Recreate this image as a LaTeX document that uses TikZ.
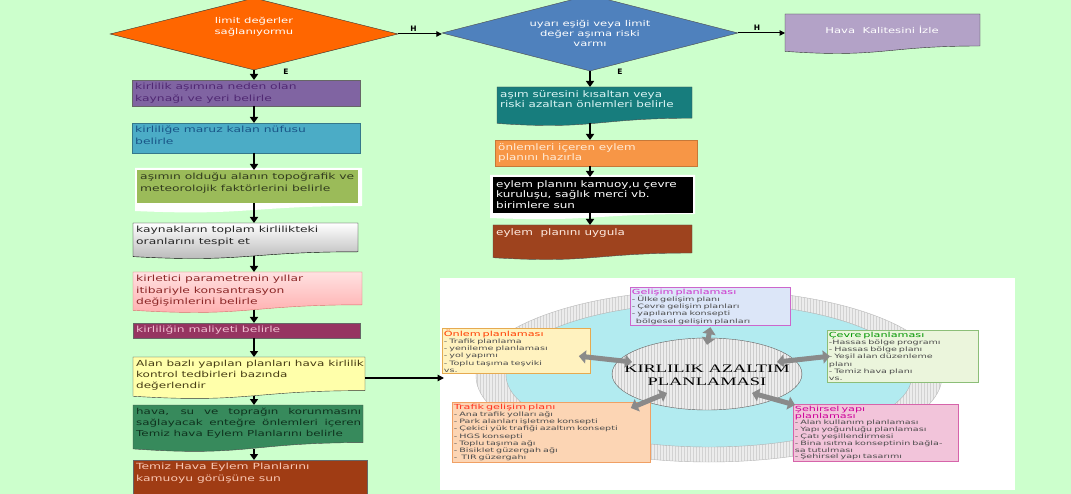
\documentclass[tikz,border=0pt]{standalone}
\usepackage{fontspec}
\setmainfont{DejaVu Sans}
\newfontfamily\fntL[FakeStretch=1.45]{DejaVu Sans}
\newfontfamily\fntR[FakeStretch=1.33]{DejaVu Sans}
\newfontfamily\fntS[FakeStretch=1.6]{DejaVu Sans}
\newfontfamily\fntC[FakeStretch=1.6]{Liberation Serif}
\newcommand\ttlfont{\fntS\fontsize{7}{7.2}\selectfont}
\usetikzlibrary{shapes.geometric,arrows.meta,calc,patterns,backgrounds}
\definecolor{bgc}{RGB}{204,255,204}
\definecolor{d1c}{RGB}{255,102,0}
\definecolor{d2c}{RGB}{79,129,189}
\definecolor{hkc}{RGB}{179,162,199}
\definecolor{b1c}{RGB}{128,100,162}
\definecolor{b2c}{RGB}{75,172,198}
\definecolor{b3c}{RGB}{155,187,89}
\definecolor{b6c}{RGB}{150,52,97}
\definecolor{b7c}{RGB}{255,255,170}
\definecolor{b8c}{RGB}{55,138,92}
\definecolor{b9c}{RGB}{160,60,20}
\definecolor{r1c}{RGB}{23,125,125}
\definecolor{r2c}{RGB}{247,150,70}
\definecolor{r4c}{RGB}{158,67,30}
\definecolor{cyc}{RGB}{178,235,240}
\definecolor{barc}{RGB}{138,138,138}
\definecolor{t1c}{RGB}{80,40,115}
\definecolor{t2c}{RGB}{25,85,135}
\definecolor{t3c}{RGB}{50,60,30}
\definecolor{t5c}{RGB}{140,40,40}
\definecolor{t6c}{RGB}{240,190,210}
\definecolor{t7c}{RGB}{70,60,20}
\definecolor{t8c}{RGB}{15,50,30}
\definecolor{t9c}{RGB}{250,200,180}
\definecolor{gelf}{RGB}{220,230,248}
\definecolor{geld}{RGB}{204,102,204}
\definecolor{gelt}{RGB}{204,51,204}
\definecolor{onlf}{RGB}{255,242,191}
\definecolor{onld}{RGB}{230,170,80}
\definecolor{onlt}{RGB}{255,60,0}
\definecolor{cevf}{RGB}{235,245,220}
\definecolor{cevd}{RGB}{140,190,120}
\definecolor{cevt}{RGB}{0,150,0}
\definecolor{trff}{RGB}{252,213,180}
\definecolor{trfd}{RGB}{240,160,100}
\definecolor{trft}{RGB}{255,50,30}
\definecolor{sehf}{RGB}{242,196,218}
\definecolor{sehd}{RGB}{214,100,170}
\definecolor{seht}{RGB}{204,0,153}
\tikzset{
  area/.style={shape=rectangle, inner sep=0pt, outer sep=0pt, draw=none},
  docpath/.style={insert path={(#1.north west) -- (#1.north east) -- ($(#1.north east)!0.8!(#1.south east)$) .. controls ($(#1.north)!0.8!(#1.south)$) and ($(#1.north)!1.107!(#1.south)$) .. ($(#1.north west)!0.934!(#1.south west)$) -- cycle}},
  rectpath/.style={insert path={(#1.north west) rectangle (#1.south east)}},
  ltxt/.style={font=\fntL\fontsize{8.5}{11.5}\selectfont, align=left, inner sep=1.5pt},
  rtxt/.style={font=\fntR\fontsize{9}{10.5}\selectfont, align=left, inner sep=1.5pt},
  dtxt/.style={font=\fntL\fontsize{8}{11}\selectfont, align=center, text=white, inner sep=0pt},
  varr/.style={line width=2.2pt, -{Triangle[width=8pt,length=6pt]}},
  harr/.style={line width=1pt, -{Triangle[width=5.5pt,length=5.5pt]}},
  lab/.style={font=\bfseries\fontsize{7.5}{8}\selectfont, inner sep=1pt},
  sbox/.style={draw, shape=rectangle, anchor=north west, align=left, inner sep=1.5pt, font=\fntS\fontsize{6}{7.2}\selectfont, text=black!70, line width=0.8pt},
  barr/.style={draw=barc, line width=5pt, {Triangle[width=13pt,length=7pt]}-{Triangle[width=13pt,length=7pt]}}
}
\newcommand\flowbox[9]{%
  \node[area, minimum width={(#4-#2)*1pt}, minimum height={(#5-#3)*1pt}, anchor=north west] (#1) at (#2,#3) {};
  \begin{scope}[on background layer]\draw[#7, #6=#1];\end{scope}
  \node[#8, anchor=north west] (#1t) at ([shift={(1.5pt,-1.5pt)}]#1.north west) {#9};}
\begin{document}
\begin{tikzpicture}[x=1pt,y=-1pt]
\useasboundingbox (0,0) rectangle (1071,494);
\begin{scope}[on background layer]
  \fill[bgc] (0,0) rectangle (1071,494);
  \node[area, fill=white, minimum width=575pt, minimum height=212pt, anchor=north west] (panel) at (440,278) {};
  \draw[gray!55, preaction={fill=gray!15}, pattern=vertical lines, pattern color=gray!35] (709,376) ellipse [x radius=233pt, y radius=86pt];
  \draw[gray!60, fill=cyc] (709,375) ellipse [x radius=203pt, y radius=72pt];
  \fill[white] (135,168) -- (362,168) -- (362,206) .. controls (248,206) and (248,216) .. (135,211) -- cycle;
  \fill[white] (490,175) -- (695,175) -- (695,214) .. controls (592,214) and (592,222) .. (490,218) -- cycle;
\end{scope}

% diamonds
\node[diamond, draw=black!80, fill=d1c, minimum width=288pt, minimum height=72pt, inner sep=0pt] (d1) at (254,34) {};
\node[dtxt] (d1t) at (254,27) {limit değerler\\sağlanıyormu};
\node[diamond, draw=black!70, fill=d2c, minimum width=296pt, minimum height=76pt, inner sep=0pt] (d2) at (590,33) {};
\node[dtxt, font=\fntL\fontsize{8}{10}\selectfont] (d2t) at (590,33) {uyarı eşiği veya limit\\değer aşıma riski\\varmı};

% Hava kalitesi
\node[area, minimum width=195pt, minimum height=40pt, anchor=north west] (hk) at (785,14) {};
\begin{scope}[on background layer]\draw[fill=hkc, draw=black!80, docpath=hk];\end{scope}
\node[dtxt] (hkt) at (882,30) {Hava\ \ Kalitesini İzle};

% left column
\flowbox{b1}{132}{80}{360}{106}{rectpath}{fill=b1c, draw=black!60}{ltxt, text=t1c}{kirlilik aşımına neden olan\\kaynağı ve yeri belirle}
\flowbox{b2}{132}{123}{360}{153}{rectpath}{fill=b2c, draw=b2c!70!black}{ltxt, text=t2c}{kirliliğe maruz kalan nüfusu\\belirle}
\flowbox{b3}{137}{170}{358}{203}{rectpath}{fill=b3c, draw=none}{ltxt, text=t3c}{aşımın olduğu alanın topoğrafik ve\\meteorolojik faktörlerini belirle}
\flowbox{b4}{133}{223}{358}{259}{docpath}{top color=white, bottom color=gray!60, draw=black}{ltxt, text=black!85}{kaynakların toplam kirlilikteki\\oranlarını tespit et}
\flowbox{b5}{133}{272}{362}{313}{docpath}{top color={rgb,255:red,255;green,225;blue,225}, bottom color={rgb,255:red,255;green,170;blue,170}, draw={rgb,255:red,220;green,110;blue,110}}{ltxt, text=t5c}{kirletici parametrenin yıllar\\itibariyle konsantrasyon\\değişimlerini belirle}
\flowbox{b6}{133}{323}{360}{338}{rectpath}{fill=b6c, draw=black!60}{ltxt, text=t6c}{kirliliğin maliyeti belirle}
\flowbox{b7}{133}{357}{365}{399}{docpath}{fill=b7c, draw=black!80}{ltxt, text=t7c, font=\fntL\fontsize{8.3}{11}\selectfont}{Alan bazlı yapılan planları hava kirlilik\\kontrol tedbirleri bazında\\değerlendir}
\flowbox{b8}{133}{405}{363}{452}{docpath}{fill=b8c, draw=black!70}{ltxt, text=t8c, font=\fntL\fontsize{8.2}{11}\selectfont}{\makebox[225pt][s]{hava, su ve toprağın korunmasını}\\\makebox[225pt][s]{sağlayacak enteğre önlemleri içeren}\\Temiz hava Eylem Planlarını belirle}
\flowbox{b9}{133}{460}{367}{500}{rectpath}{fill=b9c, draw=black!60}{ltxt, text=t9c}{Temiz Hava Eylem Planlarını\\kamuoyu görüşüne sun}

% right column
\flowbox{r1}{497}{87}{692}{126}{docpath}{fill=r1c, draw=black!70}{rtxt, text={rgb,255:red,220;green,245;blue,245}}{aşım süresini kısaltan veya\\riski azaltan önlemleri belirle}
\flowbox{r2}{495}{140}{697}{166}{rectpath}{fill=r2c, draw=r2c!80!black}{rtxt, text={rgb,255:red,255;green,235;blue,215}}{önlemleri içeren eylem\\planını hazırla}
\flowbox{r3}{493}{177}{692}{212}{rectpath}{fill=black, draw=black}{rtxt, text=white}{eylem planını kamuoy,u çevre\\kuruluşu, sağlık merci vb.\\birimlere sun}
\flowbox{r4}{493}{225}{692}{260}{docpath}{fill=r4c, draw=black!70}{rtxt, text={rgb,255:red,255;green,235;blue,225}}{eylem\ \ planını uygula}

% connectors, decisions
\draw[harr] (d1.east) -- (d1.east -| d2.west) node[pos=0.35, above=1pt, lab] (h1) {H};
\draw[harr] (d2.east) -- (d2.east -| hk.west) node[pos=0.4, above=1pt, lab] (h2) {H};
\node[lab] (e1) at (286,72) {E};
\node[lab] (e2) at (620,72) {E};

% left column arrows
\draw[varr] (d1.south) -- (b1.north -| d1.south);
\draw[varr] (b1.south -| d1.south) -- (b2.north -| d1.south);
\draw[varr] (b2.south -| d1.south) -- (b3.north -| d1.south);
\draw[varr] (b3.south -| d1.south) -- (b4.north -| d1.south);
\draw[varr] ([yshift=3pt]b4.south -| d1.south) -- (b5.north -| d1.south);
\draw[varr] ([yshift=3pt]b5.south -| d1.south) -- (b6.north -| d1.south);
\draw[varr] (b6.south -| d1.south) -- (b7.north -| d1.south);
\draw[varr] ([yshift=3pt]b7.south -| d1.south) -- (b8.north -| d1.south);
\draw[varr] ([yshift=3pt]b8.south -| d1.south) -- (b9.north -| d1.south);

% right column arrows
\draw[varr] (d2.south) -- (r1.north -| d2.south);
\draw[varr] ([yshift=3pt]r1.south -| d2.south) -- (r2.north -| d2.south);
\draw[varr] (r2.south -| d2.south) -- (r3.north -| d2.south);
\draw[varr] (r3.south -| d2.south) -- (r4.north -| d2.south);

% to panel
\draw[line width=1.4pt, -{Triangle[width=6.5pt,length=6.5pt]}] (b7.east) -- ([xshift=4pt]b7.east -| panel.west);

% panel contents
\node[ellipse, minimum width=190pt, minimum height=72pt, inner sep=0pt, draw=gray!75!black, preaction={fill=gray!15}, pattern=vertical lines, pattern color=gray!40] (ctr) at (707,374) {};
\node[font=\fntC\fontsize{11.5}{13}\selectfont, align=center, inner sep=0pt] (ctrt) at (707,375) {KIRLILIK AZALTIM\\PLANLAMASI};

\node[sbox, fill=gelf, draw=geld, text width=157pt, minimum height=36pt] (gel) at (630,287)
 {{\ttlfont\color{gelt}Gelişim planlaması}\\- Ülke gelişim planı\\- Çevre gelişim planları\\- yapılanma konsepti\\\hspace*{4pt}bölgesel gelişim planları};
\node[sbox, fill=onlf, draw=onld, text width=145pt, minimum height=44pt] (onl) at (442,328)
 {{\ttlfont\color{onlt}Önlem planlaması}\\- Trafik planlama\\- yenileme planlaması\\- yol yapımı\\- Toplu taşıma teşviki\\vs.};
\node[sbox, fill=cevf, draw=cevd, text width=148pt, minimum height=50pt] (cev) at (827,330)
 {{\ttlfont\color{cevt}Çevre planlaması}\\-Hassas bölge programı\\- Hassas bölge planı\\- Yeşil alan düzenleme\\planı\\- Temiz hava planı\\vs.};
\node[sbox, fill=trff, draw=trfd, text width=195pt, minimum height=60pt] (trf) at (452,402)
 {{\ttlfont\color{trft}Trafik gelişim planı}\\- Ana trafik yolları ağı\\- Park alanları işletme konsepti\\- Çekici yük trafiği azaltım konsepti\\- HGS konsepti\\- Toplu taşıma ağı\\- Bisiklet güzergah ağı\\-\ \ TIR güzergahı};
\node[sbox, fill=sehf, draw=sehd, text width=162pt, minimum height=57pt, font=\fntS\fontsize{6}{6.8}\selectfont] (seh) at (793,404)
 {{\fntS\fontsize{7}{6.9}\selectfont\color{seht}Şehirsel yapı\\planlaması}\\- Alan kullanım planlaması\\- Yapı yoğunluğu planlaması\\- Çatı yeşillendirmesi\\- Bina ısıtma konseptinin bağla-\\sa tutulması\\- Şehirsel yapı tasarımı};

% block arrows
\draw[barr] ([yshift=-1pt]gel.south) -- ([yshift=-7pt]ctr.north);
\draw[barr] ([xshift=-12pt,yshift=-5pt]onl.east) -- ([xshift=-75pt,yshift=12pt]ctr.center);
\draw[barr] ([xshift=70pt,yshift=12pt]ctr.center) -- ([xshift=3pt]cev.west);
\draw[barr] ([xshift=-40pt,yshift=-19pt]ctr.center) -- ([xshift=-20pt,yshift=-6pt]trf.north east);
\draw[barr] ([xshift=45pt,yshift=-19pt]ctr.center) -- ([xshift=2pt,yshift=-1pt]seh.north west);
\end{tikzpicture}
\end{document}
